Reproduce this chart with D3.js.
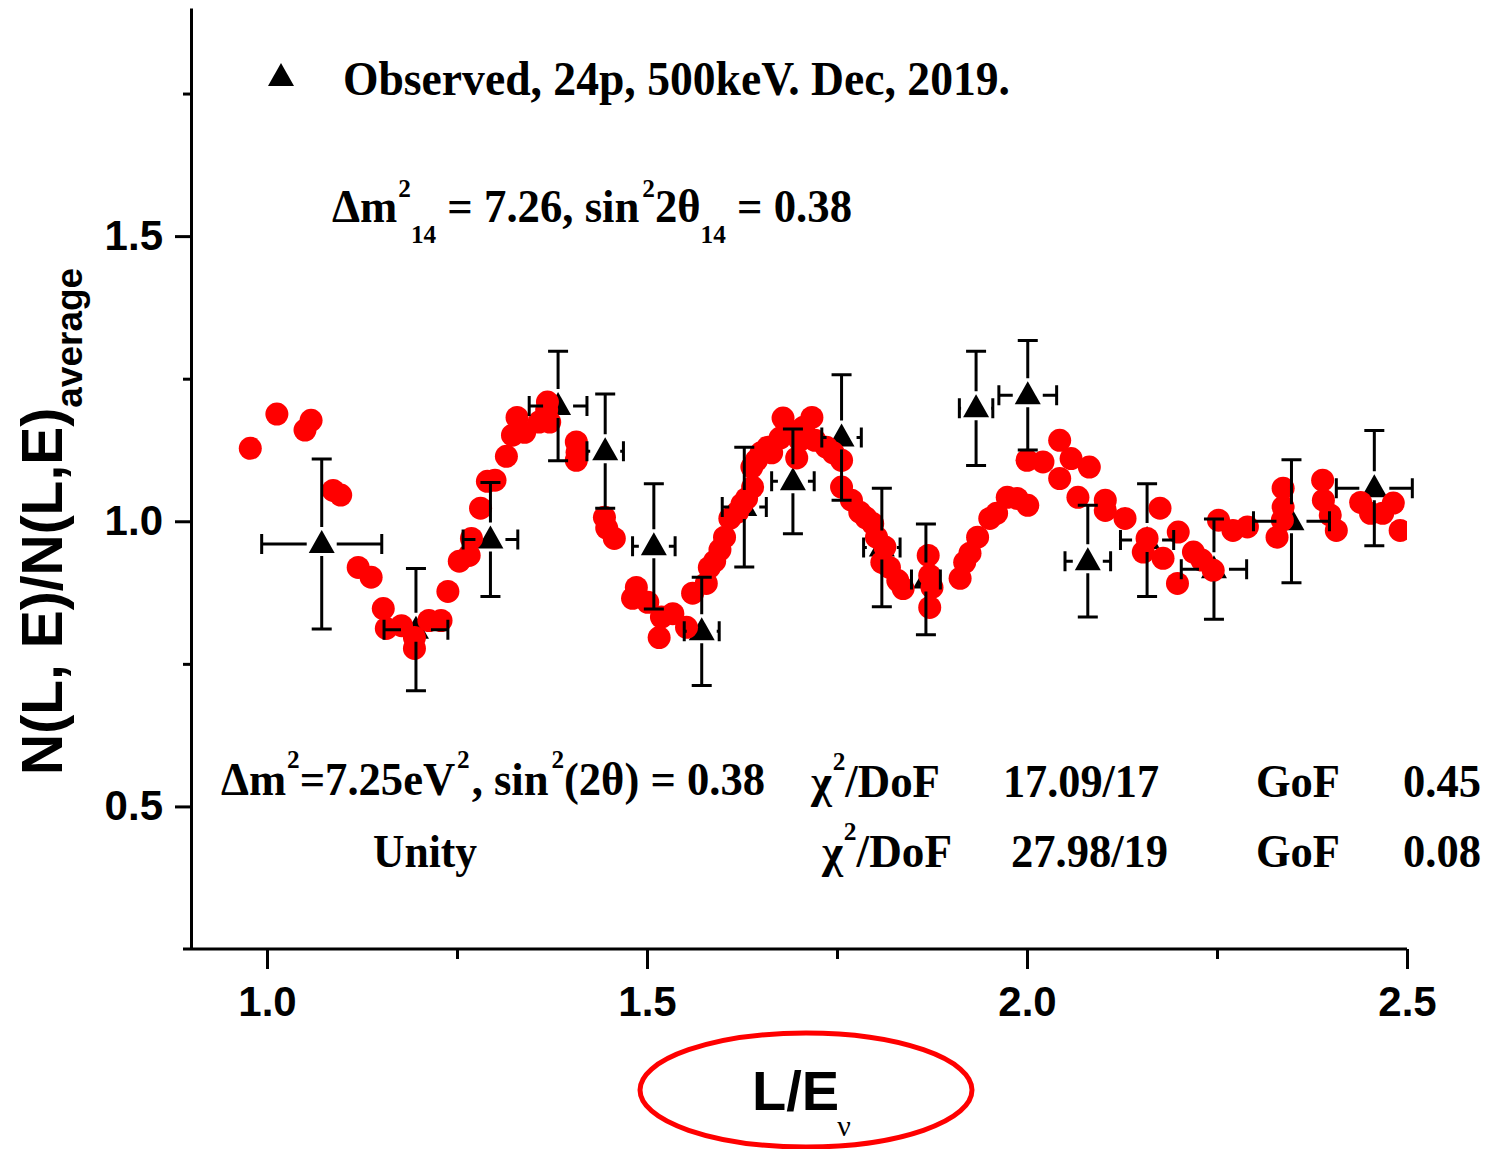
<!DOCTYPE html>
<html>
<head>
<meta charset="utf-8">
<script src="https://cdn.jsdelivr.net/npm/d3@7"></script>
<style>
  body { margin: 0; background: #fff; }
  svg { display: block; }
</style>
</head>
<body>
<svg id="chart" width="1491" height="1149"></svg>
<script>
// observed points (black triangles) with x/y errors
const obsX    = [1.072, 1.196, 1.294, 1.383, 1.445, 1.509, 1.572, 1.628, 1.692, 1.756, 1.809, 1.867, 1.933, 2.001, 2.080, 2.158, 2.246, 2.348, 2.457];
const obsY    = [0.960, 0.810, 0.968, 1.202, 1.123, 0.956, 0.807, 1.025, 1.070, 1.147, 0.954, 0.898, 1.198, 1.221, 0.930, 0.967, 0.916, 1.000, 1.058];
const obsXErr = [0.079, 0.042, 0.036, 0.038, 0.024, 0.028, 0.023, 0.029, 0.028, 0.026, 0.024, 0.019, 0.022, 0.038, 0.030, 0.035, 0.043, 0.050, 0.050];
const obsYErr = [0.149, 0.107, 0.100, 0.096, 0.100, 0.110, 0.095, 0.105, 0.092, 0.110, 0.104, 0.097, 0.100, 0.096, 0.098, 0.099, 0.088, 0.108, 0.101];

// fitted / simulated points (red dots)
const redX = [0.978, 1.013, 1.050, 1.058, 1.087, 1.097, 1.120, 1.137, 1.153, 1.157, 1.177, 1.194, 1.194, 1.213, 1.229, 1.238,
  1.253, 1.266, 1.269, 1.281, 1.290, 1.300, 1.315, 1.323, 1.329, 1.339, 1.358, 1.368, 1.369, 1.372, 1.407, 1.408, 1.407,
  1.444, 1.447, 1.457, 1.481, 1.486, 1.501, 1.516, 1.519, 1.534, 1.552, 1.560, 1.578, 1.582, 1.589, 1.596, 1.602, 1.609,
  1.619, 1.625, 1.631, 1.639, 1.638, 1.644, 1.650, 1.659, 1.664, 1.675, 1.679, 1.686, 1.697, 1.701, 1.706, 1.717, 1.721,
  1.736, 1.745, 1.756, 1.756, 1.769, 1.780, 1.788, 1.797, 1.802, 1.809, 1.813, 1.819, 1.830, 1.837, 1.870, 1.872, 1.875,
  1.872, 1.912, 1.918, 1.925, 1.935, 1.951, 1.960, 1.974, 1.987, 2.001, 2.000, 2.021, 2.043, 2.043, 2.058, 2.082, 2.067,
  2.103, 2.103, 2.129, 2.175, 2.153, 2.158, 2.179, 2.199, 2.198, 2.219, 2.230, 2.245, 2.252, 2.271, 2.290, 2.329, 2.336,
  2.337, 2.337, 2.389, 2.390, 2.399, 2.407, 2.439, 2.452, 2.468, 2.482, 2.491];
const redY = [1.128, 1.188, 1.160, 1.177, 1.054, 1.046, 0.919, 0.902, 0.847, 0.812, 0.817, 0.796, 0.777, 0.826, 0.826, 0.877,
  0.930, 0.940, 0.970, 1.023, 1.070, 1.072, 1.114, 1.151, 1.182, 1.156, 1.174, 1.195, 1.209, 1.174, 1.139, 1.121, 1.107,
  1.007, 0.988, 0.970, 0.865, 0.884, 0.858, 0.796, 0.832, 0.838, 0.814, 0.874, 0.891, 0.919, 0.930, 0.950, 0.972, 1.005,
  1.016, 1.030, 1.040, 1.060, 1.095, 1.107, 1.120, 1.130, 1.120, 1.146, 1.181, 1.160, 1.111, 1.142, 1.165, 1.182, 1.142,
  1.130, 1.120, 1.107, 1.060, 1.037, 1.016, 1.006, 0.996, 0.972, 0.928, 0.955, 0.919, 0.896, 0.882, 0.940, 0.905, 0.884,
  0.849, 0.900, 0.928, 0.944, 0.972, 1.005, 1.014, 1.042, 1.040, 1.028, 1.107, 1.104, 1.142, 1.075, 1.110, 1.095, 1.042,
  1.037, 1.019, 1.005, 1.023, 0.946, 0.970, 0.935, 0.981, 0.891, 0.946, 0.932, 0.914, 1.002, 0.984, 0.990, 0.972, 1.002,
  1.058, 1.025, 1.072, 1.037, 1.011, 0.984, 1.033, 1.014, 1.014, 1.032, 0.984];

const xMajor = [1.0, 1.5, 2.0, 2.5];
const xMinor = [1.25, 1.75, 2.25];
const yMajor = [0.5, 1.0, 1.5];
const yMinor = [0.75, 1.25, 1.75];

const sans = "'Liberation Sans', Arial, sans-serif";
const serif = "'Liberation Serif', 'Times New Roman', serif";

const svg = d3.select("#chart");

const x = d3.scaleLinear().domain([0.9, 2.5]).range([191, 1407]);
const y = d3.scaleLinear().domain([0.25, 1.9]).range([949, 8]);

svg.append("defs").append("clipPath").attr("id", "plot")
  .append("rect")
  .attr("x", x.range()[0]).attr("y", y.range()[1])
  .attr("width", x.range()[1] - x.range()[0])
  .attr("height", y.range()[0] - y.range()[1]);

// X axis
const gx = svg.append("g")
  .attr("transform", `translate(0,${y.range()[0]})`)
  .call(d3.axisBottom(x).tickValues(xMajor).tickFormat(d3.format(".1f"))
    .tickSize(20).tickSizeOuter(0).tickPadding(17));
gx.select(".domain").remove();
gx.append("line")
  .attr("x1", x.range()[0] - 8).attr("x2", x.range()[1])
  .attr("stroke", "#000").attr("stroke-width", 3);
svg.append("g")
  .attr("transform", `translate(0,${y.range()[0]})`)
  .call(d3.axisBottom(x).tickValues(xMinor).tickFormat("").tickSize(10).tickSizeOuter(0))
  .select(".domain").remove();

// Y axis
const gy = svg.append("g")
  .attr("transform", `translate(${x.range()[0]},0)`)
  .call(d3.axisLeft(y).tickValues(yMajor).tickFormat(d3.format(".1f"))
    .tickSize(16).tickSizeOuter(0).tickPadding(12));
svg.append("g")
  .attr("transform", `translate(${x.range()[0]},0)`)
  .call(d3.axisLeft(y).tickValues(yMinor).tickFormat("").tickSize(8).tickSizeOuter(0))
  .select(".domain").remove();

svg.selectAll(".tick line, .domain").attr("stroke", "#000").attr("stroke-width", 3);
svg.selectAll(".tick text")
  .attr("fill", "#000")
  .style("font-family", sans).style("font-weight", "bold").style("font-size", "42px");

// triangles
const tri = "M0,-14L13,9L-13,9Z";
svg.append("g").selectAll("path")
  .data(obsX)
  .join("path")
  .attr("d", tri)
  .attr("transform", (d, i) => `translate(${x(d)},${y(obsY[i])})`)
  .attr("fill", "#000");

// red dots
svg.append("g").attr("clip-path", "url(#plot)")
  .selectAll("circle")
  .data(redX)
  .join("circle")
  .attr("cx", d => x(d))
  .attr("cy", (d, i) => y(redY[i]))
  .attr("r", 11.5)
  .attr("fill", "#ff0000");

// error bars (on top), with a gap around the symbol
const eb = svg.append("g").attr("stroke", "#000").attr("stroke-width", 3).attr("fill", "none");
obsX.forEach((xv, i) => {
  const cx = x(xv), cy = y(obsY[i]);
  const yt = y(obsY[i] + obsYErr[i]), yb = y(obsY[i] - obsYErr[i]);
  const xl = x(xv - obsXErr[i]), xr = x(xv + obsXErr[i]);
  const path = d3.path();
  path.moveTo(cx, yt); path.lineTo(cx, cy - 17);
  path.moveTo(cx, cy + 12); path.lineTo(cx, yb);
  path.moveTo(cx - 10, yt); path.lineTo(cx + 10, yt);
  path.moveTo(cx - 10, yb); path.lineTo(cx + 10, yb);
  path.moveTo(xl, cy); path.lineTo(Math.max(cx - 15, xl), cy);
  path.moveTo(Math.min(cx + 15, xr), cy); path.lineTo(xr, cy);
  path.moveTo(xl, cy - 10); path.lineTo(xl, cy + 10);
  path.moveTo(xr, cy - 10); path.lineTo(xr, cy + 10);
  eb.append("path").attr("d", path.toString());
});

// rich text helper: parts = [text, baselineShift, fontSize, dx]
function rich(x0, y0, parts, size, len) {
  const t = svg.append("text")
    .attr("x", x0).attr("y", y0)
    .style("font-family", serif).style("font-weight", "bold")
    .style("font-size", size + "px").style("white-space", "pre")
    .attr("fill", "#000");
  let cur = 0;
  parts.forEach(([s, shift = 0, fs = size, dx = 0]) => {
    t.append("tspan").attr("dy", shift - cur).attr("dx", dx).style("font-size", fs + "px").text(s);
    cur = shift;
  });
  if (len) t.attr("textLength", len).attr("lengthAdjust", "spacingAndGlyphs");
  return t;
}

// legend
svg.append("path").attr("d", tri).attr("transform", "translate(281,77)").attr("fill", "#000");
rich(343, 95, [["Observed, 24p, 500keV. Dec, 2019."]], 48, 667);

rich(332, 222, [["\u0394m"], ["2", -25, 26, 1], ["14", 21, 26], [" = 7.26, sin"], ["2", -25, 26, 3], ["2\u03b8"], ["14", 21, 26], [" = 0.38"]], 46, 520);

rich(221, 795, [["\u0394m"], ["2", -27, 26, 1], ["=7.25eV"], ["2", -27, 26, 2], [",", 0, 46, 2], [" sin"], ["2", -27, 26, 3], ["(2\u03b8) = 0.38"]], 46, 544);
rich(373, 867, [["Unity"]], 46, 104);

rich(811, 797, [["\u03c7"], ["2", -27, 26, 1], ["/DoF"]], 46, 129);
rich(1003, 797, [["17.09/17"]], 46, 156);
rich(1256, 797, [["GoF"]], 46, 84);
rich(1403, 797, [["0.45"]], 46, 78);

rich(822, 867, [["\u03c7"], ["2", -27, 26, 1], ["/DoF"]], 46, 130);
rich(1011, 867, [["27.98/19"]], 46, 157);
rich(1256, 867, [["GoF"]], 46, 84);
rich(1403, 867, [["0.08"]], 46, 78);

// y axis title
const yt = svg.append("text")
  .attr("transform", "translate(62,775) rotate(-90)")
  .style("font-family", sans).style("font-weight", "bold").style("font-size", "57px")
  .attr("fill", "#000");
yt.append("tspan").text("N(L, E)/N(L,E)");
yt.append("tspan").attr("dy", 20).style("font-size", "37px").text("average");

// x axis title in red ellipse
svg.append("ellipse")
  .attr("cx", 806).attr("cy", 1090).attr("rx", 166).attr("ry", 57)
  .attr("fill", "none").attr("stroke", "#ff0000").attr("stroke-width", 5);
const xt = svg.append("text")
  .attr("x", 752).attr("y", 1110)
  .style("font-family", sans).style("font-weight", "bold").style("font-size", "56px")
  .attr("fill", "#000");
xt.append("tspan").text("L/E");
xt.append("tspan").attr("dy", 26).attr("dx", -2).style("font-family", serif).style("font-weight", "normal")
  .style("font-size", "30px").text("\u03bd");
</script>
</body>
</html>
